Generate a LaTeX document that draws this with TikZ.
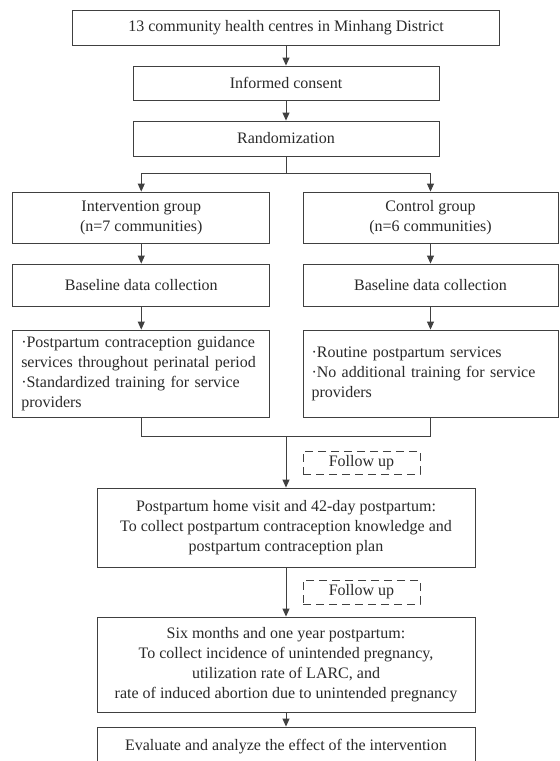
\documentclass[tikz,border=0pt]{standalone}
\usepackage{fontspec}
\setmainfont{Liberation Serif}
\usetikzlibrary{arrows.meta}
\definecolor{ln}{HTML}{404040}
\definecolor{tx}{HTML}{2a2a2a}
\begin{document}
\begin{tikzpicture}[x=1pt,y=-1pt,
  every node/.style={font=\fontsize{16}{20}\selectfont, text=tx},
  box/.style={draw=ln, line width=0.9pt, align=center, inner sep=0pt},
  lbox/.style={draw=ln, line width=0.9pt, align=left, inner ysep=0pt, inner xsep=8.5pt},
  dbox/.style={draw=ln, line width=0.8pt, dash pattern=on 8pt off 5pt, inner sep=0pt},
  conn/.style={draw=ln, line width=0.9pt},
  arr/.style={conn, -{Triangle[length=8pt,width=7pt]}}
]
\useasboundingbox (0,0) rectangle (560,761);
\clip (0,0) rectangle (560,761);
\fill[white] (0,0) rectangle (560,761);

\node[box, minimum width=427pt, minimum height=35pt] (top) at (286,27.5) {13 community health centres in Minhang District};
\node[box, minimum width=306pt, minimum height=34pt] (cons) at (286,83) {Informed consent};
\node[box, minimum width=306pt, minimum height=35pt] (rand) at (286,138.5) {Randomization};

\node[box, minimum width=257pt, minimum height=51pt] (intv) at (141.25,217.5) {Intervention group\\(n=7 communities)};
\node[box, minimum width=255pt, minimum height=51pt] (ctrl) at (430.5,217.5) {Control group\\(n=6 communities)};

\node[box, minimum width=257pt, minimum height=42pt] (bl) at (141.25,285) {Baseline data collection};
\node[box, minimum width=255pt, minimum height=42pt] (br) at (430.5,285) {Baseline data collection};

\node[lbox, text width=240pt, minimum height=87pt] (sl) at (141.25,373.5) {·Postpartum contraception guidance\\services throughout perinatal period\\·Standardized training for service\\providers};
\node[lbox, text width=238pt, minimum height=87pt] (sr) at (430.5,373.5) {·Routine postpartum services\\·No additional training for service\\providers};

\node[dbox, minimum width=117pt, minimum height=23pt] (f1) at (361.5,462.5) {Follow up};
\node[box, minimum width=378pt, minimum height=79pt] (phv) at (286,527.5) {Postpartum home visit and 42-day postpartum:\\To collect postpartum contraception knowledge and\\postpartum contraception plan};
\node[dbox, minimum width=117pt, minimum height=24pt] (f2) at (361.5,592) {Follow up};
\node[box, minimum width=378pt, minimum height=95pt] (six) at (286,664.5) {Six months and one year postpartum:\\To collect incidence of unintended pregnancy,\\utilization rate of LARC, and\\rate of induced abortion due to unintended pregnancy};
\node[box, minimum width=378pt, minimum height=40pt] (fin) at (286,747) {Evaluate and analyze the effect of the intervention};

\coordinate (b) at (286,173);
\coordinate (m) at (286,436);

\draw[arr] (top.south) -- (cons.north);
\draw[arr] (cons.south) -- (rand.north);
\draw[conn] (rand.south) -- (b);
\draw[arr] (b) -| (intv.north);
\draw[arr] (b) -| (ctrl.north);
\draw[arr] (intv.south) -- (bl.north);
\draw[arr] (ctrl.south) -- (br.north);
\draw[arr] (bl.south) -- (sl.north);
\draw[arr] (br.south) -- (sr.north);
\draw[conn] (sl.south) |- (m);
\draw[conn] (sr.south) |- (m);
\draw[arr] (m) -- (phv.north);
\draw[arr] (phv.south) -- (six.north);
\draw[arr] (six.south) -- (fin.north);
\end{tikzpicture}
\end{document}
